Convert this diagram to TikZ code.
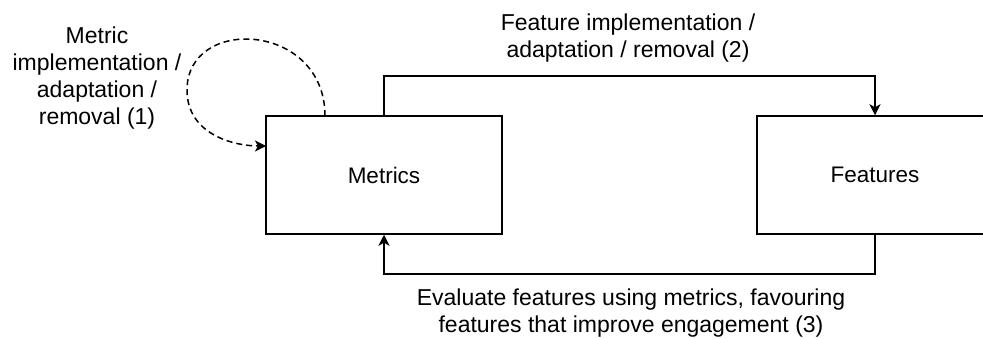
\documentclass[tikz,border=0pt]{standalone}
\usepackage{fontspec}
\setmainfont{Liberation Sans}
\usetikzlibrary{arrows.meta}
\begin{document}
\begin{tikzpicture}[x=1pt,y=-1pt,
  box/.style={draw,line width=1.5pt,minimum width=236pt,minimum height=118pt,inner sep=0pt,font=\fontsize{22.5}{27.5}\selectfont},
  lbl/.style={align=center,inner sep=0pt,font=\fontsize{23}{27}\selectfont},
  arr/.style={line width=1.5pt,-{Stealth[length=11pt,width=11pt,inset=3pt]}}]
\useasboundingbox (0,0) rectangle (983,339);
\node[box] (m) at (384,175) {Metrics};
\node[box] (f) at (875,175) {Features};
\coordinate (ls) at (325,116);
\coordinate (le) at (266,146);
\draw[arr,dash pattern=on 6pt off 4pt] (ls) .. controls (325,22) and (187,15) .. (187,90) .. controls (187,135) and (235,146) .. (le);
\draw[arr] (m.north) -- (m.north |- 0,76) -| (f.north);
\draw[arr] (f.south) -- (f.south |- 0,274) -| (m.south);
\node[lbl] (l1) at (97,78) {Metric\\implementation /\\adaptation /\\removal (1)};
\node[lbl] (l2) at (628,38) {Feature implementation /\\adaptation / removal (2)};
\node[lbl] (l3) at (631,313) {Evaluate features using metrics, favouring\\features that improve engagement (3)};
\end{tikzpicture}
\end{document}
